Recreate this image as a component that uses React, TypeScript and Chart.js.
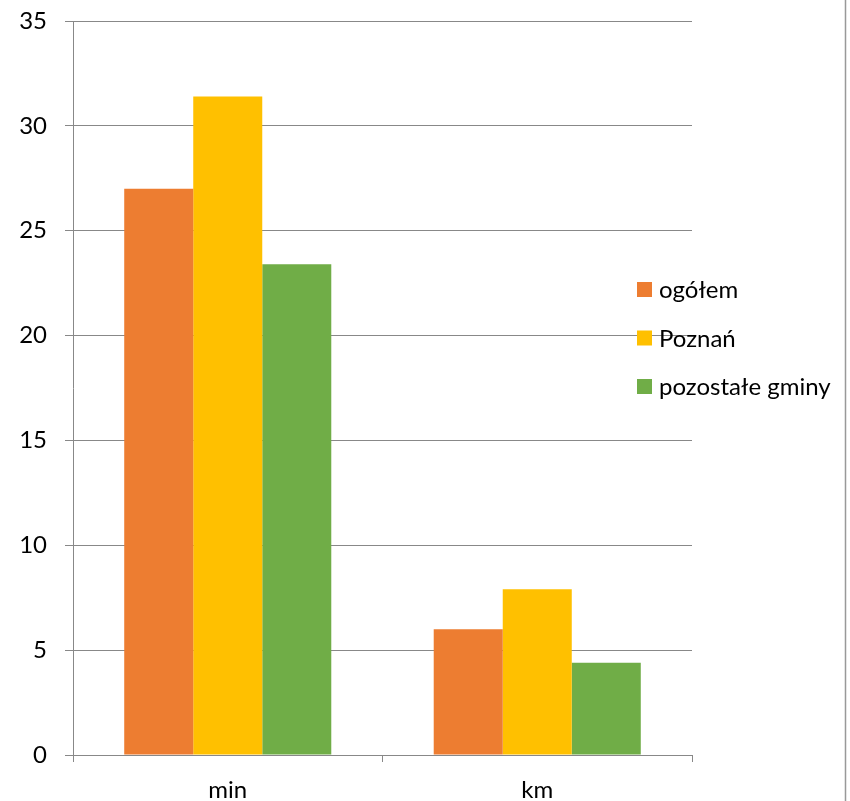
import React, { useEffect, useRef } from "react";
import { Chart, registerables } from "chart.js";

Chart.register(...registerables);

const categories = ["min", "km"];
const seriesNames = ["ogółem", "Poznań", "pozostałe gminy"];
const ogolem = [27.0, 6.0];
const poznan = [31.4, 7.9];
const pozostale = [23.4, 4.4];
const seriesColors = ["#ED7D31", "#FFC000", "#70AD47"];
const yTicksMax = 35;
const yTicksStep = 5;

const FONT = "Lato, 'Open Sans', sans-serif";
const FONT_SIZE = 24;
const GRID = "#888888";

// Legend drawn inside the right part of the canvas, overlapping the grid like the original layout
const sideLegend = {
  id: "sideLegend",
  afterDraw(chart: any) {
    const ctx = chart.ctx;
    ctx.save();
    const x = 637;
    const y0 = 289.5;
    const gap = 48.5;
    ctx.font = `${FONT_SIZE}px ${FONT}`;
    ctx.textBaseline = "middle";
    ctx.textAlign = "left";
    chart.data.datasets.forEach((ds: any, i: number) => {
      const cy = y0 + i * gap;
      ctx.fillStyle = ds.backgroundColor;
      ctx.fillRect(x, cy - 7.5, 15, 15);
      ctx.fillStyle = "#000";
      ctx.fillText(ds.label, x + 22, cy + 1);
    });
    // outer frame line on the right
    ctx.strokeStyle = "#999999";
    ctx.lineWidth = 1.5;
    ctx.beginPath();
    ctx.moveTo(845.5, 0);
    ctx.lineTo(845.5, chart.height);
    ctx.stroke();
    ctx.restore();
  },
};

export default function App() {
  const ref = useRef<HTMLCanvasElement>(null);

  useEffect(() => {
    if (!ref.current) return;
    const values = [ogolem, poznan, pozostale];
    const chart = new Chart(ref.current, {
      type: "bar",
      data: {
        labels: categories,
        datasets: seriesNames.map((name, i) => ({
          label: name,
          data: values[i],
          backgroundColor: seriesColors[i],
          borderWidth: 0,
          barPercentage: 1,
          categoryPercentage: 0.669,
        })),
      },
      options: {
        animation: false,
        responsive: false,
        maintainAspectRatio: false,
        layout: { padding: { left: 0, right: 158, top: 21, bottom: 0 } },
        plugins: {
          legend: { display: false },
          tooltip: { enabled: false },
        },
        scales: {
          x: {
            grid: {
              display: true,
              drawOnChartArea: false,
              drawTicks: true,
              tickLength: 7,
              color: GRID,
              lineWidth: 1,
              offset: true,
            },
            border: { display: true, color: GRID, width: 1 },
            ticks: {
              color: "#000",
              font: { family: FONT, size: FONT_SIZE },
              padding: 14,
            },
            afterFit(scale: any) {
              scale.height = 46;
              scale.paddingLeft = 0;
              scale.paddingRight = 0;
            },
          },
          y: {
            min: 0,
            max: yTicksMax,
            ticks: {
              stepSize: yTicksStep,
              color: "#000",
              font: { family: FONT, size: FONT_SIZE },
              padding: 18,
            },
            grid: {
              color: GRID,
              lineWidth: 1,
              drawTicks: true,
              tickLength: 8,
            },
            border: { display: true, color: GRID, width: 1 },
            afterFit(scale: any) {
              scale.width = 73;
              scale.paddingTop = 0;
              scale.paddingBottom = 0;
            },
          },
        },
      },
      plugins: [sideLegend],
    });
    return () => chart.destroy();
  }, []);

  return (
    <div style={{ position: "absolute", left: 0, top: 0, width: 850, height: 801, background: "#fff" }}>
      <canvas ref={ref} width={850} height={801} style={{ display: "block" }} />
    </div>
  );
}
